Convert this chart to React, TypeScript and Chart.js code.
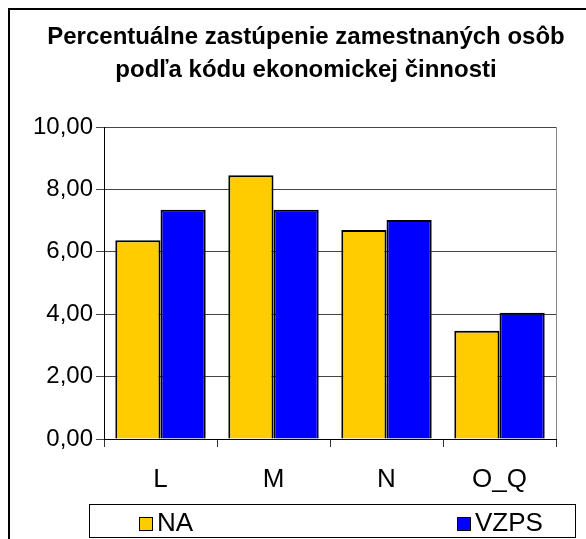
import React, { useEffect, useRef } from 'react';
import { Chart, registerables } from 'chart.js';

Chart.register(...registerables);

const titleLines = ['Percentuálne zastúpenie zamestnaných osôb', 'podľa kódu ekonomickej činnosti'];
const categories = ['L', 'M', 'N', 'O_Q'];
const seriesNames = ['NA', 'VZPS'];
const naValues = [6.37, 8.45, 6.7, 3.47];
const vzpsValues = [7.35, 7.35, 7.02, 4.05];
const seriesColors = ['#FFCC00', '#0000FF'];
const yMin = 0;
const yMax = 10;
const yStep = 2;

const FONT = '"Liberation Sans", Arial, sans-serif';

const framePlugin = {
  id: 'frame',
  afterDraw(chart: any) {
    const ctx = chart.ctx;
    const area = chart.chartArea;
    ctx.save();
    // right edge of plot area
    ctx.strokeStyle = '#888888';
    ctx.lineWidth = 1;
    ctx.beginPath();
    ctx.moveTo(Math.round(area.right) + 0.5, area.top);
    ctx.lineTo(Math.round(area.right) + 0.5, area.bottom);
    ctx.stroke();
    // outer chart border
    ctx.strokeStyle = '#000000';
    ctx.lineWidth = 2;
    ctx.strokeRect(9, 9, 800, 800);
    // title
    ctx.fillStyle = '#000000';
    ctx.font = `bold 24px ${FONT}`;
    ctx.textAlign = 'center';
    ctx.textBaseline = 'alphabetic';
    titleLines.forEach((line, i) => {
      ctx.fillText(line, 306, 44 + i * 33);
    });
    // legend
    ctx.lineWidth = 1;
    ctx.strokeRect(89.5, 504.5, 486, 33);
    const itemX = [139, 457];
    chart.data.datasets.forEach((ds: any, i: number) => {
      const x = itemX[i];
      ctx.fillStyle = ds.backgroundColor;
      ctx.fillRect(x, 517, 14, 14);
      ctx.strokeStyle = '#000000';
      ctx.strokeRect(x + 0.5, 517.5, 13, 13);
      ctx.fillStyle = '#000000';
      ctx.font = `26px ${FONT}`;
      ctx.textAlign = 'left';
      ctx.textBaseline = 'middle';
      ctx.fillText(ds.label, x + 18, 524);
    });
    ctx.restore();
  },
};

export default function App() {
  const ref = useRef<HTMLCanvasElement>(null);

  useEffect(() => {
    if (!ref.current) return;
    const chart = new Chart(ref.current, {
      type: 'bar',
      data: {
        labels: categories,
        datasets: [
          {
            label: seriesNames[0],
            data: naValues,
            backgroundColor: seriesColors[0],
            borderColor: '#000000',
            borderWidth: 2,
            categoryPercentage: 0.8,
            barPercentage: 1.0,
          },
          {
            label: seriesNames[1],
            data: vzpsValues,
            backgroundColor: seriesColors[1],
            borderColor: '#000000',
            borderWidth: 2,
            categoryPercentage: 0.8,
            barPercentage: 1.0,
          },
        ],
      },
      options: {
        responsive: false,
        animation: false,
        layout: { padding: { top: 127, right: 30, bottom: 0, left: 0 } },
        plugins: {
          legend: { display: false },
          title: { display: false },
          tooltip: { enabled: false },
        },
        scales: {
          x: {
            afterFit(scale: any) {
              scale.height = 100;
            },
            grid: {
              drawOnChartArea: false,
              drawTicks: true,
              tickLength: 8,
              color: '#333333',
              offset: true,
            },
            border: { display: true, color: '#000000', width: 1 },
            ticks: {
              color: '#000000',
              padding: 17,
              font: { family: FONT, size: 26 },
            },
          },
          y: {
            min: yMin,
            max: yMax,
            afterFit(scale: any) {
              scale.width = 104;
            },
            grid: {
              drawOnChartArea: true,
              drawTicks: true,
              tickLength: 8,
              color: '#444444',
            },
            border: { display: true, color: '#000000', width: 1 },
            ticks: {
              stepSize: yStep,
              color: '#000000',
              padding: 3,
              font: { family: FONT, size: 24 },
              callback: (v: any) => Number(v).toFixed(2).replace('.', ','),
            },
          },
        },
      },
      plugins: [framePlugin],
    });
    return () => chart.destroy();
  }, []);

  return (
    <div style={{ position: 'fixed', left: 0, top: 0, width: 586, height: 539, background: '#fff' }}>
      <canvas ref={ref} width={586} height={539} style={{ width: 586, height: 539, display: 'block' }} />
    </div>
  );
}
